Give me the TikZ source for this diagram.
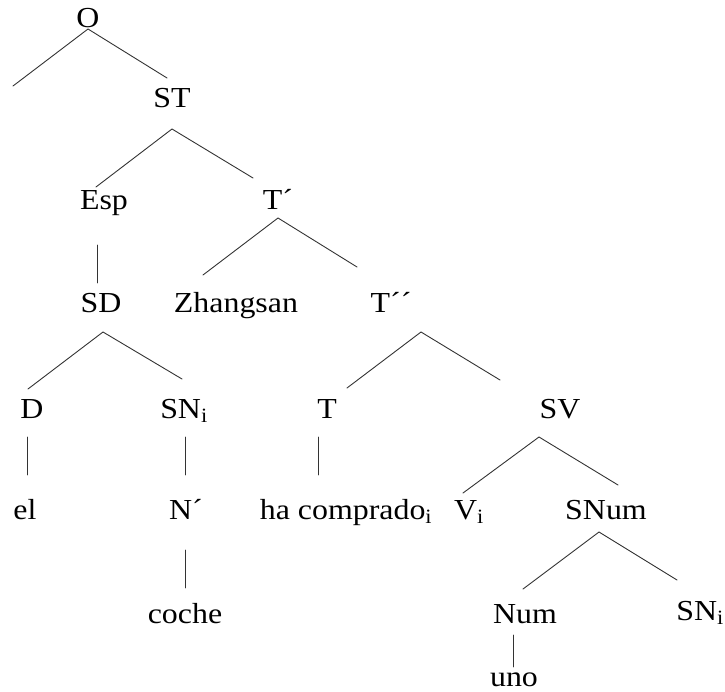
\documentclass[tikz,border=0pt]{standalone}
\usepackage{fontspec}
\setmainfont{Liberation Serif}[FakeStretch=1.1]
\tikzset{
  lbl/.style={anchor=base,inner sep=0pt,outer sep=0pt},
  branch/.style={line width=0.9pt,black!80,line cap=round}
}
\begin{document}
\begin{tikzpicture}[x=1pt,y=-1pt,font=\fontsize{29}{34}\selectfont]
  \useasboundingbox (0,0) rectangle (725,692);
  % nodes, row by row
  \node[lbl] (O) at (88,28) {O};
  \coordinate (blank) at (13,86);
  \node[lbl] (ST) at (172,108) {ST};
  \node[lbl] (Esp) at (104,210) {Esp};
  \node[lbl] (Tb) at (278,210) {T´};
  \node[lbl] (SD) at (101,313) {SD};
  \node[lbl] (Zs) at (236,313) {Zhangsan};
  \node[lbl] (Tbb) at (391,313) {T´´};
  \node[lbl] (D) at (32,418) {D};
  \node[lbl] (SNa) at (184,418) {SN\textsubscript{i}};
  \node[lbl] (T) at (327,418) {T};
  \node[lbl] (SV) at (560,418) {SV};
  \node[lbl] (el) at (25,519) {el};
  \node[lbl] (Nb) at (186,519) {N´};
  \node[lbl] (ha) at (346,519) {ha comprado\textsubscript{i}};
  \node[lbl] (Vi) at (469,519) {V\textsubscript{i}};
  \node[lbl] (SNum) at (606,519) {SNum};
  \node[lbl] (coche) at (185,623) {coche};
  \node[lbl] (Num) at (525,623) {Num};
  \node[lbl] (SNb) at (700,620) {SN\textsubscript{i}};
  \node[lbl] (uno) at (514,686) {uno};
  % branches
  \draw[branch] (blank) -- ([shift={(0,1)}]O.base) -- ([shift={(-5,-30)}]ST.base);
  \draw[branch] ([shift={(-8,-23)}]Esp.base) -- ([shift={(0,21)}]ST.base) -- ([shift={(-25,-32)}]Tb.base);
  \draw[branch] ([shift={(-33,-38)}]Zs.base) -- ([shift={(0,8)}]Tb.base) -- ([shift={(-34,-46)}]Tbb.base);
  \draw[branch] ([shift={(-7,35)}]Esp.base) -- ([shift={(-4,-30)}]SD.base);
  \draw[branch] ([shift={(-4,-29)}]D.base) -- ([shift={(2,19)}]SD.base) -- ([shift={(-2,-39)}]SNa.base);
  \draw[branch] ([shift={(20,-30)}]T.base) -- ([shift={(30,19)}]Tbb.base) -- ([shift={(-60,-38)}]SV.base);
  \draw[branch] ([shift={(-5,19)}]D.base) -- ([shift={(2,-44)}]el.base);
  \draw[branch] ([shift={(1,19)}]SNa.base) -- ([shift={(-1,-44)}]Nb.base);
  \draw[branch] ([shift={(-1,31)}]Nb.base) -- ([shift={(0,-35)}]coche.base);
  \draw[branch] ([shift={(-9,19)}]T.base) -- ([shift={(-28,-44)}]ha.base);
  \draw[branch] ([shift={(-6,-26)}]Vi.base) -- ([shift={(-21,19)}]SV.base) -- ([shift={(12,-34)}]SNum.base);
  \draw[branch] ([shift={(-2,-34)}]Num.base) -- ([shift={(-7,13)}]SNum.base) -- ([shift={(-23,-40)}]SNb.base);
  \draw[branch] ([shift={(-12,12)}]Num.base) -- ([shift={(-1,-19)}]uno.base);
\end{tikzpicture}
\end{document}
